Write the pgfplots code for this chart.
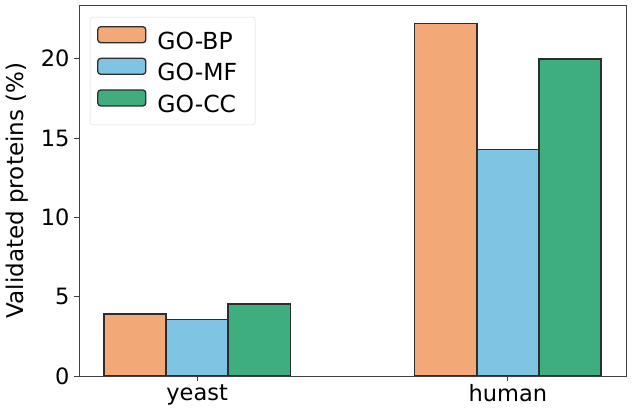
\documentclass[border=0pt]{standalone}
\usepackage{pgfplots}
\pgfplotsset{compat=1.18}
\usepackage{fontspec}
\setmainfont{DejaVu Sans}
\definecolor{cbp}{RGB}{243,168,120}
\definecolor{cmf}{RGB}{127,196,226}
\definecolor{ccc}{RGB}{62,174,126}
\definecolor{edge}{RGB}{45,45,45}
\begin{document}
\begin{tikzpicture}
\begin{axis}[
  scale only axis, width=547pt, height=371pt,
  xmin=-0.38, xmax=1.38, ymin=0, ymax=23.38,
  xtick={0,1}, xticklabels={yeast,human},
  ytick={0,5,10,15,20},
  ybar=0pt, bar width=0.2,
  tick align=outside, xtick pos=bottom, ytick pos=left,
  major tick length=5pt,
  axis line style={draw=black!75, line width=0.9pt},
  tick style={black!75, line width=0.9pt},
  /pgf/number format/assume math mode=true,
  tick label style={font=\fontsize{22.5}{24}\selectfont},
  yticklabel style={xshift=-1pt},
  ylabel={Validated proteins (\%)},
  ylabel style={font=\fontsize{23}{24}\selectfont, yshift=6pt},
  every axis plot/.append style={draw=edge, line width=1.4pt},
  legend cell align=left,
  legend style={at={(0.02,0.968)}, anchor=north west, draw=black!15, rounded corners=3pt,
    font=\fontsize{23.5}{28}\selectfont, row sep=5pt, inner xsep=7pt, inner ysep=9pt,
    nodes={inner xsep=11pt}},
  legend image code/.code={\draw[#1,line width=1.3pt] (-2pt,-1.5pt) rectangle (46pt,14.5pt);},
]
\addplot[fill=cbp] coordinates {(0,3.91) (1,22.22)};
\addplot[fill=cmf] coordinates {(0,3.57) (1,14.28)};
\addplot[fill=ccc] coordinates {(0,4.54) (1,19.97)};
\legend{GO-BP,GO-MF,GO-CC}
\end{axis}
\path (current axis.south west) +(-79pt,-41pt) (current axis.north east) +(7pt,5pt);
\end{tikzpicture}
\end{document}
